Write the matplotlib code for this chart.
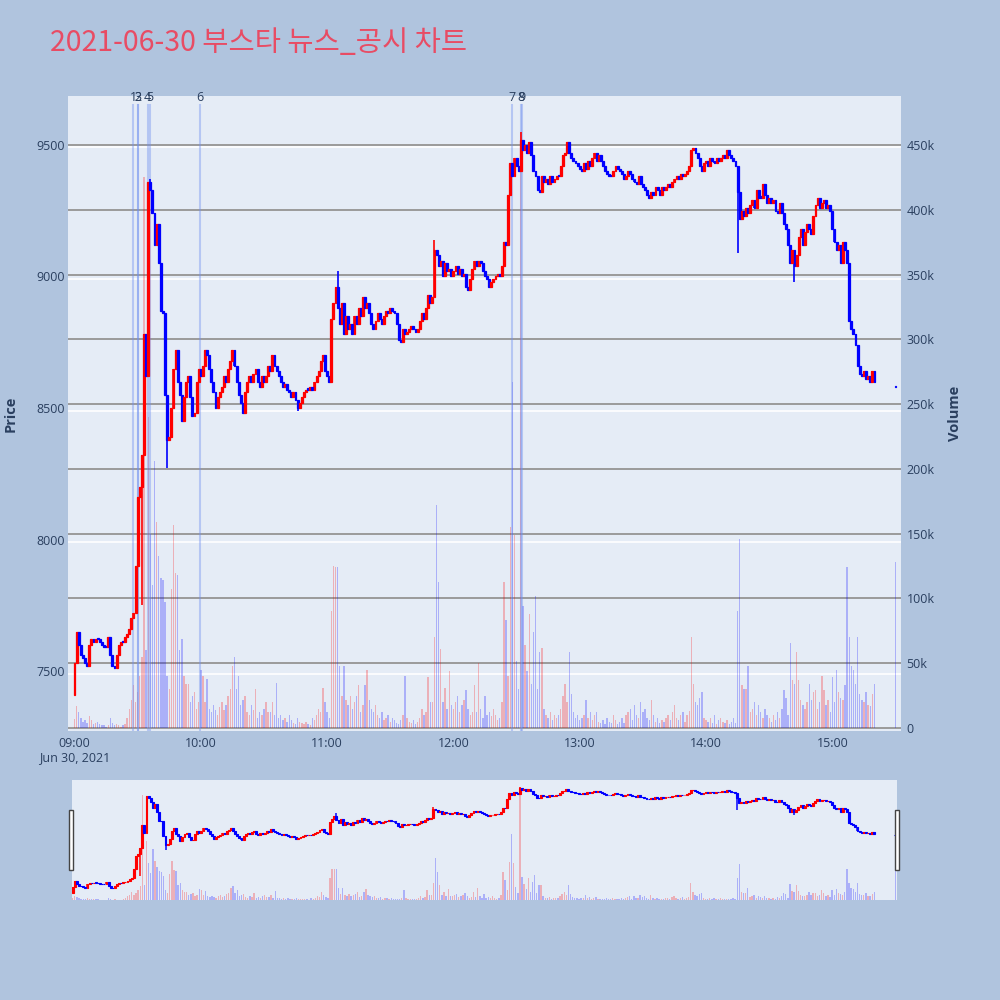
import numpy as np
import matplotlib
matplotlib.use("Agg")
import matplotlib.pyplot as plt
from matplotlib.patches import Rectangle

# Chart data: one-minute candles, 09:00 .. 15:20, plus the 15:30 closing call.
title = "2021-06-30 부스타 뉴스_공시 차트"
first_open = 7410
close = [
    7530, 7650, 7600, 7560, 7550, 7530, 7520, 7600, 7620, 7610,
    7620, 7620, 7610, 7600, 7590, 7590, 7630, 7560, 7520, 7510,
    7560, 7600, 7610, 7610, 7630, 7640, 7660, 7700, 7720, 7900,
    8160, 8200, 8320, 8780, 8620, 9360, 9330, 9240, 9120, 9200,
    9050, 8870, 8860, 8550, 8380, 8390, 8500, 8650, 8720, 8600,
    8550, 8450, 8540, 8600, 8620, 8540, 8470, 8480, 8600, 8650,
    8620, 8660, 8720, 8700, 8650, 8600, 8560, 8500, 8540, 8560,
    8580, 8620, 8600, 8650, 8680, 8720, 8660, 8600, 8550, 8520,
    8480, 8560, 8600, 8620, 8600, 8630, 8650, 8600, 8580, 8620,
    8600, 8620, 8660, 8640, 8700, 8660, 8640, 8620, 8600, 8580,
    8590, 8570, 8560, 8540, 8560, 8530, 8500, 8520, 8540, 8560,
    8570, 8570, 8580, 8570, 8600, 8620, 8640, 8680, 8700, 8640,
    8620, 8600, 8840, 8900, 8960, 8880, 8820, 8900, 8780, 8850,
    8800, 8820, 8780, 8850, 8820, 8880, 8850, 8920, 8880, 8900,
    8860, 8820, 8800, 8830, 8860, 8840, 8820, 8850, 8870, 8860,
    8880, 8870, 8860, 8820, 8760, 8750, 8800, 8780, 8790, 8800,
    8810, 8800, 8790, 8800, 8830, 8860, 8840, 8880, 8930, 8900,
    8920, 9100, 9080, 9040, 9060, 9000, 9050, 9020, 9030, 9000,
    9020, 9040, 9010, 9030, 9000, 9010, 8960, 8950, 8990, 9030,
    9060, 9040, 9060, 9050, 9020, 9000, 8990, 8960, 8980, 8990,
    9000, 9010, 9000, 9040, 9130, 9120, 9310, 9430, 9380, 9450,
    9420, 9400, 9520, 9480, 9500, 9470, 9510, 9460, 9400, 9380,
    9330, 9320, 9380, 9360, 9370, 9350, 9380, 9360, 9370, 9380,
    9380, 9420, 9460, 9470, 9510, 9470, 9450, 9440, 9430, 9420,
    9410, 9400, 9430, 9410, 9440, 9420, 9450, 9470, 9440, 9460,
    9440, 9420, 9400, 9390, 9380, 9380, 9400, 9420, 9410, 9400,
    9390, 9370, 9380, 9400, 9390, 9370, 9360, 9350, 9380, 9350,
    9340, 9330, 9310, 9300, 9320, 9310, 9340, 9330, 9310, 9340,
    9330, 9340, 9350, 9340, 9360, 9370, 9380, 9370, 9390, 9380,
    9390, 9400, 9420, 9480, 9490, 9470, 9450, 9420, 9400, 9430,
    9440, 9420, 9450, 9440, 9430, 9450, 9440, 9450, 9460, 9450,
    9480, 9460, 9450, 9440, 9420, 9320, 9220, 9250, 9230, 9260,
    9240, 9270, 9290, 9260, 9330, 9300, 9300, 9350, 9310, 9280,
    9300, 9280, 9290, 9250, 9240, 9280, 9240, 9200, 9180, 9120,
    9050, 9100, 9040, 9080, 9150, 9180, 9120, 9170, 9200, 9180,
    9160, 9230, 9270, 9300, 9260, 9280, 9290, 9260, 9270, 9250,
    9180, 9130, 9100, 9120, 9050, 9130, 9100, 9050, 8830, 8800,
    8780, 8740, 8660, 8630, 8620, 8640, 8610, 8620, 8600, 8640, 8600,
]
volume_k = [
    7, 17, 12, 8, 5, 6, 4, 9, 6, 3,
    4, 5, 3, 2, 2, 1, 2, 8, 4, 2,
    3, 2, 1, 2, 3, 8, 15, 22, 33, 20,
    28, 40, 55, 425, 60, 240, 150, 110, 206, 159,
    133, 116, 114, 97, 40, 30, 107, 157, 120, 118,
    60, 69, 40, 34, 34, 20, 25, 28, 15, 20,
    45, 40, 20, 38, 15, 12, 18, 14, 10, 16,
    20, 14, 18, 25, 30, 48, 55, 30, 40, 18,
    22, 25, 12, 10, 18, 14, 30, 8, 12, 10,
    15, 20, 12, 12, 20, 10, 35, 8, 10, 6,
    8, 5, 10, 6, 4, 3, 8, 5, 4, 3,
    5, 3, 2, 8, 6, 10, 15, 12, 31, 20,
    12, 8, 90, 125, 124, 124, 48, 25, 48, 22,
    18, 25, 15, 20, 25, 33, 12, 18, 33, 45,
    22, 15, 12, 18, 10, 8, 12, 6, 8, 10,
    5, 8, 6, 4, 3, 6, 10, 40, 8, 5,
    4, 6, 3, 5, 8, 15, 10, 12, 39, 20,
    20, 70, 172, 113, 61, 20, 31, 15, 44, 18,
    15, 20, 25, 12, 18, 22, 29, 15, 10, 12,
    33, 12, 50, 15, 8, 25, 10, 12, 9, 15,
    10, 6, 8, 20, 113, 83, 40, 155, 267, 149,
    52, 30, 459, 94, 64, 44, 88, 34, 74, 102,
    30, 59, 62, 15, 10, 8, 12, 6, 10, 8,
    10, 15, 25, 34, 20, 59, 26, 12, 8, 10,
    6, 8, 10, 22, 8, 12, 6, 10, 12, 5,
    4, 6, 3, 8, 5, 4, 10, 6, 3, 5,
    8, 4, 10, 12, 15, 6, 18, 10, 8, 20,
    12, 15, 8, 6, 22, 10, 5, 8, 4, 6,
    5, 8, 10, 6, 12, 18, 8, 6, 10, 12,
    5, 10, 13, 70, 34, 20, 18, 23, 28, 8,
    6, 5, 8, 4, 10, 3, 6, 8, 5, 4,
    6, 3, 5, 8, 4, 90, 146, 33, 30, 30,
    48, 12, 15, 20, 10, 18, 12, 8, 15, 10,
    8, 5, 10, 6, 12, 8, 15, 29, 23, 10,
    66, 37, 34, 59, 37, 22, 18, 15, 20, 34,
    22, 28, 29, 15, 20, 40, 29, 18, 22, 12,
    39, 20, 45, 28, 23, 22, 33, 124, 70, 48,
    45, 34, 70, 26, 22, 20, 28, 18, 17, 26, 34,
]
close_call_price = 8580
close_call_volume_k = 128
wick_high = {36: 9370, 125: 9020, 171: 9140, 212: 9550}
wick_low = {32: 7750, 44: 8270, 106: 8490, 315: 9090, 342: 8980}

news_labels = ["1", "2", "3", "4", "5", "6", "7", "8", "9"]
news_minutes = [28.0, 30.3, 30.3, 34.8, 35.7, 59.6, 208.0, 212.3, 212.4]

hour_labels = ["09:00", "10:00", "11:00", "12:00", "13:00", "14:00", "15:00"]
date_label = "Jun 30, 2021"
price_ticks = [7500, 8000, 8500, 9000, 9500]
volume_ticks = [0, 50, 100, 150, 200, 250, 300, 350, 400, 450]

# Assemble OHLC (open = previous close)
minutes = np.append(np.arange(len(close)), 390)
closes = np.array(close + [close_call_price], dtype=float)
opens = np.array([first_open] + close[:-1] + [close_call_price], dtype=float)
highs = np.maximum(opens, closes)
lows = np.minimum(opens, closes)
for k, v in wick_high.items():
    highs[k] = max(highs[k], v)
for k, v in wick_low.items():
    lows[k] = min(lows[k], v)
vols = np.array(volume_k + [close_call_volume_k], dtype=float)
up = closes > opens

RED, BLUE = "#FF0000", "#0000FF"
BG, PLOT_BG, TXT = "#B0C4DE", "#E5ECF6", "#2a3f5f"
PRICE_LIM = (7272, 9686)
VOL_LIM = (-2.3, 487.8)

plt.rcParams["font.family"] = ["Open Sans", "DejaVu Sans"]

fig = plt.figure(figsize=(10, 10), dpi=100, facecolor=BG)


def draw_candles(ax, lw):
    cols = np.where(up, RED, BLUE)
    body_lo = np.minimum(opens, closes)
    body_h = np.maximum(np.abs(closes - opens), 5)
    ax.vlines(minutes, lows, highs, colors=cols, lw=lw * 0.6, zorder=3)
    ax.bar(minutes, body_h, bottom=body_lo, width=0.9, color=cols,
           edgecolor=cols, lw=lw * 0.45, zorder=3)


def draw_volume(ax):
    cols = np.where(up, RED, BLUE)
    ax.bar(minutes, vols, width=0.65, color=cols, alpha=0.25, lw=0, zorder=1)


# Main panel: volume underneath, price on top
ax_v = fig.add_axes([0.068, 0.269, 0.833, 0.635])
ax_v.set_facecolor(PLOT_BG)
ax_p = ax_v.twinx()

draw_volume(ax_v)
draw_candles(ax_p, 2.0)

ax_v.set_xlim(-3.09, 392.6)
ax_v.set_ylim(*VOL_LIM)
ax_p.set_ylim(*PRICE_LIM)

# grids
ax_v.set_yticks(volume_ticks)
ax_v.set_yticklabels(["0"] + [f"{t}k" for t in volume_ticks[1:]])
ax_v.set_axisbelow(True)
ax_v.grid(axis="y", color="#9a9a9a", lw=1.4, zorder=0.5)
for p in price_ticks:
    frac = (p - PRICE_LIM[0]) / (PRICE_LIM[1] - PRICE_LIM[0])
    ax_v.plot([0, 1], [frac - 0.004, frac - 0.004], transform=ax_v.transAxes,
              color="white", lw=1.2, zorder=0.6)

ax_v.yaxis.tick_right()
ax_v.yaxis.set_label_position("right")
ax_p.yaxis.tick_left()
ax_p.yaxis.set_label_position("left")
ax_p.set_yticks(price_ticks)
ax_p.set_yticklabels([str(p) for p in price_ticks])

ax_v.set_xticks([60 * i for i in range(len(hour_labels))])
ax_v.set_xticklabels([hour_labels[0] + "\n" + date_label] + hour_labels[1:],
                     linespacing=1.15)

for a in (ax_v, ax_p):
    for s in a.spines.values():
        s.set_visible(False)
    a.tick_params(length=0, labelsize=9, labelcolor=TXT)
ax_v.tick_params(axis="x", pad=4)
ax_v.tick_params(axis="y", pad=4)
ax_p.tick_params(axis="y", pad=2)

ax_p.set_ylabel("Price", fontsize=10.5, fontweight="bold", color=TXT)
ax_p.yaxis.set_label_coords(-0.060, 0.5)
ax_v.set_ylabel("Volume", fontsize=10.5, fontweight="bold", color=TXT)
ax_v.yaxis.set_label_coords(1.056, 0.5)

# news markers
for lab, m in zip(news_labels, news_minutes):
    ax_p.axvline(m, ymin=0, ymax=0.986, color="#6f8fef", alpha=0.4, lw=1.5, zorder=2)
    ax_p.text(m, 0.998, lab, transform=ax_p.get_xaxis_transform(), ha="center",
              va="center", fontsize=9, color=TXT, clip_on=False)

# Range slider
ax_sv = fig.add_axes([0.072, 0.100, 0.8247, 0.120])
ax_sv.set_facecolor(PLOT_BG)
ax_sp = ax_sv.twinx()
draw_volume(ax_sv)
draw_candles(ax_sp, 1.8)
ax_sv.set_xlim(-0.33, 390.6)
ax_sv.set_ylim(0, VOL_LIM[1])
ax_sp.set_ylim(*PRICE_LIM)
for a in (ax_sv, ax_sp):
    a.set_xticks([])
    a.set_yticks([])
    for s in a.spines.values():
        s.set_visible(False)

for x0 in (0.069, 0.895):
    fig.add_artist(Rectangle((x0, 0.130), 0.004, 0.060, transform=fig.transFigure,
                             facecolor="white", edgecolor="#444444", lw=1))

fig.text(0.05, 0.957, title, fontsize=20.5, color="#E84C64", ha="left", va="center",
         family=["Noto Sans CJK KR", "DejaVu Sans"])

fig.savefig("out.png", dpi=100, facecolor=BG)
